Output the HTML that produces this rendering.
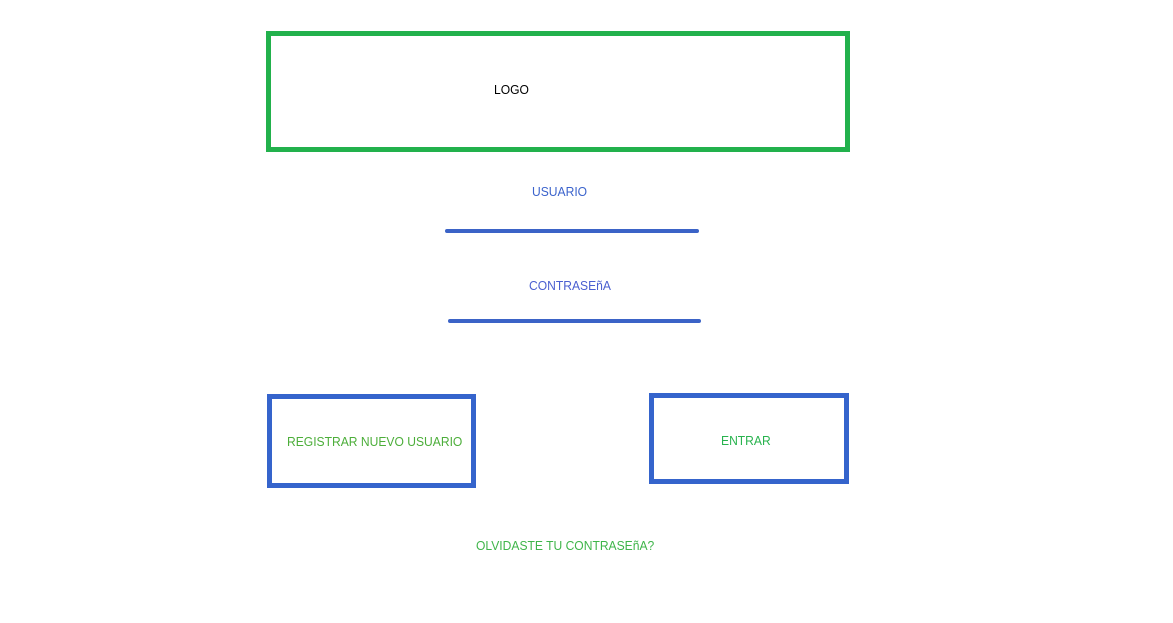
<!DOCTYPE html>
<html><head><meta charset="utf-8"><style>
html,body{margin:0;padding:0;width:1173px;height:623px;background:#fff;overflow:hidden;position:relative;font-family:"Liberation Sans",sans-serif;font-size:13px}
.a{position:absolute;box-sizing:border-box}
.t{position:absolute;white-space:nowrap;transform:scaleX(0.93);transform-origin:left center}
</style></head><body>
<div class="a" style="left:266px;top:31px;width:584px;height:121px;border:5px solid #22b14c"></div>
<div class="t" style="left:494px;top:82px;color:#000">LOGO</div>
<div class="t" style="left:532px;top:184px;color:#3b63cc">USUARIO</div>
<div class="a" style="left:445px;top:229px;width:254px;height:4px;background:#3b63c7;border-radius:2px"></div>
<div class="t" style="left:529px;top:278px;color:#4a5fd0">CONTRASEñA</div>
<div class="a" style="left:448px;top:319px;width:253px;height:4px;background:#3b63c7;border-radius:2px"></div>
<div class="a" style="left:267px;top:394px;width:209px;height:94px;border:5px solid #3564cc"></div>
<div class="t" style="left:287px;top:434px;color:#4cae3a">REGISTRAR NUEVO USUARIO</div>
<div class="a" style="left:649px;top:393px;width:200px;height:91px;border:5px solid #3564cc"></div>
<div class="t" style="left:721px;top:433px;color:#28b34e">ENTRAR</div>
<div class="t" style="left:476px;top:538px;color:#3fb54a">OLVIDASTE TU CONTRASEñA?</div>
</body></html>
